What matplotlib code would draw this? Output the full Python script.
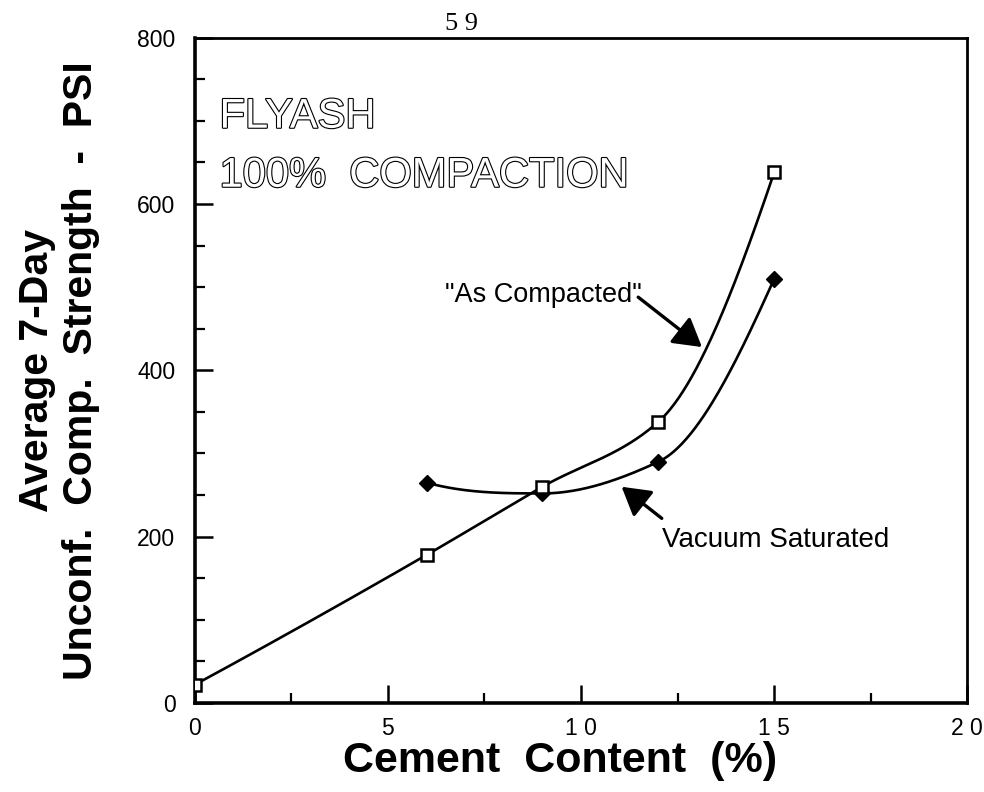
import numpy as np
import matplotlib
matplotlib.use("Agg")
import matplotlib.pyplot as plt
import matplotlib.patheffects as pe
from matplotlib.ticker import MultipleLocator

# ---- data ----
cement_as = [0, 6, 9, 12, 15]
strength_as = [22, 178, 260, 338, 638]
cement_vs = [6, 9, 12, 15]
strength_vs = [265, 252, 290, 510]

x_ticks = [0, 5, 10, 15, 20]
x_tick_labels = ["0", "5", "1 0", "1 5", "2 0"]
y_ticks = [0, 200, 400, 600, 800]
y_tick_labels = ["0", "200", "400", "600", "800"]


def pchip(xs, ys, n=80):
    xs = np.asarray(xs, float)
    ys = np.asarray(ys, float)
    h = np.diff(xs)
    d = np.diff(ys) / h
    m = np.zeros_like(xs)
    for k in range(1, len(xs) - 1):
        if d[k - 1] * d[k] <= 0:
            m[k] = 0.0
        else:
            w1 = 2 * h[k] + h[k - 1]
            w2 = h[k] + 2 * h[k - 1]
            m[k] = (w1 + w2) / (w1 / d[k - 1] + w2 / d[k])

    def end(h0, h1, d0, d1):
        v = ((2 * h0 + h1) * d0 - h0 * d1) / (h0 + h1)
        if np.sign(v) != np.sign(d0):
            v = 0.0
        elif np.sign(d0) != np.sign(d1) and abs(v) > abs(3 * d0):
            v = 3 * d0
        return v

    m[0] = end(h[0], h[1], d[0], d[1])
    m[-1] = end(h[-1], h[-2], d[-1], d[-2])
    X, Y = [], []
    for i in range(len(xs) - 1):
        t = np.linspace(0, 1, n)
        h00 = 2 * t**3 - 3 * t**2 + 1
        h10 = t**3 - 2 * t**2 + t
        h01 = -2 * t**3 + 3 * t**2
        h11 = t**3 - t**2
        X.append(xs[i] + t * h[i])
        Y.append(h00 * ys[i] + h10 * h[i] * m[i] + h01 * ys[i + 1] + h11 * h[i] * m[i + 1])
    return np.concatenate(X), np.concatenate(Y)


plt.rcParams['font.family'] = ['Liberation Sans', 'DejaVu Sans']

fig = plt.figure(figsize=(9.84, 7.92), dpi=100)
ax = fig.add_axes([0.198, 0.1124, 0.785, 0.84])

xa, ya = pchip(cement_as, strength_as)
xv, yv = pchip(cement_vs, strength_vs)
ax.plot(xa, ya, color='black', lw=1.9, zorder=2)
ax.plot(xv, yv, color='black', lw=1.9, zorder=2)
ax.plot(cement_as, strength_as, linestyle='none', marker='s', ms=8.5,
        mfc='white', mec='black', mew=1.8, zorder=4)
ax.plot(cement_vs, strength_vs, linestyle='none', marker='D', ms=8.5,
        mfc='black', mec='black', zorder=3)

ax.set_xlim(0, 20)
ax.set_ylim(0, 800)
ax.set_xticks(x_ticks)
ax.set_xticklabels(x_tick_labels)
ax.set_yticks(y_ticks)
ax.set_yticklabels(y_tick_labels)
ax.xaxis.set_minor_locator(MultipleLocator(2.5))
ax.yaxis.set_minor_locator(MultipleLocator(50))
ax.tick_params(which='major', direction='in', length=13, width=1.8, labelsize=16.5)
ax.tick_params(axis='x', which='major', pad=10)
ax.tick_params(axis='y', which='major', pad=14)
ax.tick_params(which='minor', direction='in', length=7, width=1.6)
for s in ax.spines.values():
    s.set_linewidth(2.0)
ax.spines['left'].set_linewidth(2.6)
ax.spines['bottom'].set_linewidth(2.6)

ax.set_xlabel("Cement  Content  (%)", fontsize=31, fontweight='bold', labelpad=1)
ax.xaxis.label.set_x(0.473)
ax.set_ylabel("Average 7-Day\nUnconf.  Comp.  Strength  -  PSI", fontsize=29.5,
              fontweight='bold', linespacing=1.18)
ax.yaxis.set_label_coords(-0.123, 0.5)

outline = [pe.Stroke(linewidth=1.6, foreground='black'), pe.Normal()]
ax.text(0.032, 0.8647, "FLYASH", transform=ax.transAxes, fontsize=30,
        color='white', va='baseline', ha='left', path_effects=outline)
ax.text(0.032, 0.776, "100%  COMPACTION", transform=ax.transAxes, fontsize=30,
        color='white', va='baseline', ha='left', path_effects=outline)

arrow_style = dict(arrowstyle='-|>,head_length=0.85,head_width=0.5',
                   color='black', lw=2.4, shrinkA=0, shrinkB=0, mutation_scale=20)
ax.annotate('', xy=(13.13, 428), xytext=(11.48, 488), arrowprops=arrow_style)
ax.annotate('', xy=(11.05, 260), xytext=(12.09, 222), arrowprops=arrow_style)
ax.text(6.48, 482, '"As Compacted"', fontsize=19.5, ha='left', va='baseline')
ax.text(12.1, 188, "Vacuum Saturated", fontsize=20, ha='left', va='baseline')

fig.text(0.469, 0.97, "5 9", fontsize=19, family='Liberation Serif',
         ha='center', va='center')

fig.savefig("out.png", dpi=100)
